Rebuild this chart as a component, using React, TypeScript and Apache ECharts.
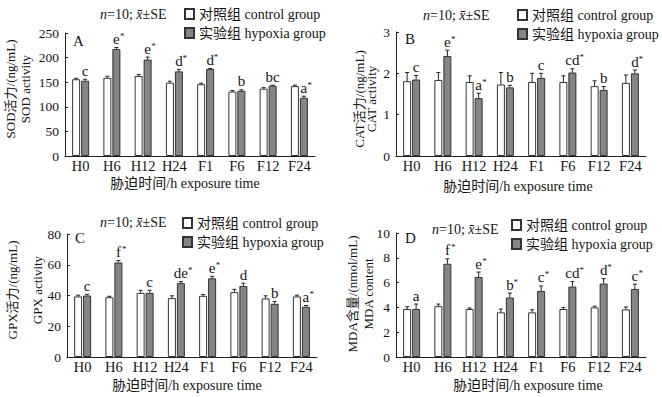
import React, { useEffect, useRef } from 'react';
import * as echarts from 'echarts';

// ---------------- data ----------------
const categories = ['H0', 'H6', 'H12', 'H24', 'F1', 'F6', 'F12', 'F24'];
const controlName = '对照组 control group';
const hypoxiaName = '实验组 hypoxia group';

const sodControl = [156, 159, 162.5, 149, 146, 131, 137, 142];
const sodControlErr = [2, 3, 3, 3, 2, 2, 2, 2];
const sodHypoxia = [153, 217.5, 196, 172, 177, 132.5, 143, 118.5];
const sodHypoxiaErr = [3, 3, 5, 4, 1, 2, 1, 3];
const sodSig = ['c', 'e*', 'e*', 'd*', 'd*', 'b', 'bc', 'a*'];

const catControl = [1.81, 1.84, 1.79, 1.73, 1.79, 1.79, 1.69, 1.77];
const catControlErr = [0.21, 0.18, 0.15, 0.29, 0.21, 0.15, 0.13, 0.19];
const catHypoxia = [1.85, 2.42, 1.4, 1.66, 1.89, 2.02, 1.6, 2.0];
const catHypoxiaErr = [0.1, 0.14, 0.12, 0.05, 0.11, 0.09, 0.08, 0.08];
const catSig = ['c', 'e*', 'a*', 'b', 'c', 'cd*', 'b', 'd*'];

const gpxControl = [39.4, 38.9, 41.7, 38.3, 39.8, 42.2, 38.1, 39.4];
const gpxControlErr = [0.8, 0.6, 1.7, 1.5, 0.8, 1.8, 1.7, 0.8];
const gpxHypoxia = [40, 61.5, 41.7, 48, 51.2, 46.2, 34.6, 32.7];
const gpxHypoxiaErr = [0.8, 1.3, 1.7, 1.0, 1.3, 1.8, 1.5, 0.8];
const gpxSig = ['c', 'f*', 'c', 'de*', 'e*', 'd', 'b', 'a*'];

const mdaControl = [3.87, 4.1, 3.87, 3.6, 3.6, 3.87, 4.0, 3.84];
const mdaControlErr = [0.18, 0.17, 0.08, 0.27, 0.21, 0.13, 0.1, 0.19];
const mdaHypoxia = [3.87, 7.52, 6.45, 4.8, 5.33, 5.68, 5.92, 5.49];
const mdaHypoxiaErr = [0.4, 0.4, 0.4, 0.35, 0.4, 0.4, 0.4, 0.38];
const mdaSig = ['a', 'f*', 'e*', 'b*', 'c*', 'cd*', 'd*', 'c*'];

const xAxisTitle = '胁迫时间/h exposure time';
const statText = '{i|n}=10; {i|x\u0304}±SE';

// ---------------- layout ----------------
const FONT = 'Liberation Serif, Noto Sans CJK SC, serif';
const TXT = '#141414';
const LINE = '#222';

const panels = [
  {
    tag: 'A', max: 250, interval: 50,
    control: sodControl, controlErr: sodControlErr, hypoxia: sodHypoxia, hypoxiaErr: sodHypoxiaErr, sig: sodSig,
    yName: ['SOD活力/(ng/mL)', 'SOD activity'],
    grid: { left: 65, top: 33, width: 250, height: 123 },
    yNamePos: [10.5, 25, 89], xNamePos: [185, 183], statPos: [100, 14], tagPos: [73, 41], legendPos: [184, 7],
  },
  {
    tag: 'B', max: 3, interval: 1,
    control: catControl, controlErr: catControlErr, hypoxia: catHypoxia, hypoxiaErr: catHypoxiaErr, sig: catSig,
    yName: ['CAT活力/(ng/mL)', 'CAT activity'],
    grid: { left: 396, top: 32, width: 250, height: 124 },
    yNamePos: [359, 371, 99], xNamePos: [518, 186], statPos: [423, 15], tagPos: [405, 39], legendPos: [517, 8],
  },
  {
    tag: 'C', max: 80, interval: 20,
    control: gpxControl, controlErr: gpxControlErr, hypoxia: gpxHypoxia, hypoxiaErr: gpxHypoxiaErr, sig: gpxSig,
    yName: ['GPX活力/(ng/mL)', 'GPX activity'],
    grid: { left: 67, top: 234, width: 250, height: 123 },
    yNamePos: [12.5, 37, 290], xNamePos: [187, 385], statPos: [100, 222], tagPos: [75, 238], legendPos: [182, 216],
  },
  {
    tag: 'D', max: 10, interval: 2,
    control: mdaControl, controlErr: mdaControlErr, hypoxia: mdaHypoxia, hypoxiaErr: mdaHypoxiaErr, sig: mdaSig,
    yName: ['MDA含量/(nmol/mL)', 'MDA content'],
    grid: { left: 396, top: 233, width: 250, height: 124 },
    yNamePos: [352, 368, 294], xNamePos: [528, 385], statPos: [432, 229], tagPos: [405, 238], legendPos: [511, 218],
  },
];

const HALF = 4.5; // half distance between the two bars' centres

function buildOption() {
  const grid: any[] = [];
  const xAxis: any[] = [];
  const yAxis: any[] = [];
  const series: any[] = [];
  const legend: any[] = [];
  const graphic: any[] = [];

  panels.forEach((p, pi) => {
    grid.push({ ...p.grid, containLabel: false });
    xAxis.push({
      type: 'category', gridIndex: pi, data: categories, boundaryGap: true,
      axisLine: { lineStyle: { color: LINE, width: 1 } },
      axisTick: { show: false },
      axisLabel: { color: TXT, fontFamily: FONT, fontSize: 14.5, margin: 3, interval: 0 },
      splitLine: { show: false },
    });
    yAxis.push({
      type: 'value', gridIndex: pi, min: 0, max: p.max, interval: p.interval,
      axisLine: { show: true, lineStyle: { color: LINE, width: 1 } },
      axisTick: { show: true, inside: true, length: 3, lineStyle: { color: LINE } },
      axisLabel: { color: TXT, fontFamily: FONT, fontSize: 13.5, margin: 6 },
      splitLine: { show: false },
    });
    series.push({
      type: 'bar', name: controlName, xAxisIndex: pi, yAxisIndex: pi,
      data: p.control, barWidth: 8, barGap: '12.5%',
      itemStyle: { color: '#ffffff', borderColor: '#333', borderWidth: 1 },
      silent: true,
    });
    series.push({
      type: 'bar', name: hypoxiaName, xAxisIndex: pi, yAxisIndex: pi,
      data: p.hypoxia, barWidth: 8, barGap: '12.5%',
      itemStyle: { color: '#858585', borderColor: '#333', borderWidth: 1 },
      silent: true,
    });
    series.push({
      type: 'custom', xAxisIndex: pi, yAxisIndex: pi, silent: true, z: 5,
      data: categories.map((_, i) => [i, Math.max(p.control[i] + p.controlErr[i], p.hypoxia[i] + p.hypoxiaErr[i])]),
      encode: { x: 0, y: 1 },
      renderItem: (params: any, api: any) => {
        const i = params.dataIndex;
        const children: any[] = [];
        const pairs: [number, number, number][] = [
          [p.control[i], p.controlErr[i], -HALF],
          [p.hypoxia[i], p.hypoxiaErr[i], HALF],
        ];
        let hypTop = 0;
        pairs.forEach(([v, e, off]) => {
          const base = api.coord([i, v]);
          const top = api.coord([i, v + e]);
          const x = base[0] + off;
          children.push({ type: 'line', shape: { x1: x, y1: base[1], x2: x, y2: top[1] }, style: { stroke: LINE, lineWidth: 1 } });
          children.push({ type: 'line', shape: { x1: x - 2, y1: top[1], x2: x + 2, y2: top[1] }, style: { stroke: LINE, lineWidth: 1 } });
          hypTop = top[1];
        });
        const sig = p.sig[i];
        const letters = sig.replace('*', '');
        const star = sig.indexOf('*') >= 0;
        const cx = api.coord([i, 0])[0] + HALF;
        const yb = hypTop - 1;
        children.push({
          type: 'text',
          style: { text: letters, x: cx, y: yb, align: 'center', verticalAlign: 'bottom', fontFamily: FONT, fontSize: 15, fill: TXT },
        });
        if (star) {
          children.push({
            type: 'text',
            style: { text: '*', x: cx + letters.length * 3.4 + 0.3, y: yb - 15, align: 'left', verticalAlign: 'top', fontFamily: FONT, fontSize: 9, fill: TXT },
          });
        }
        return { type: 'group', children };
      },
    });
    legend.push({
      left: p.legendPos[0], top: p.legendPos[1], orient: 'vertical', padding: 0,
      itemWidth: 9, itemHeight: 10, itemGap: 5, icon: 'rect', selectedMode: false,
      textStyle: { color: TXT, fontFamily: FONT, fontSize: 14, lineHeight: 14 },
      data: [controlName, hypoxiaName],
    });
    // y axis names (two lines, rotated)
    p.yName.forEach((t, li) => {
      graphic.push({
        type: 'text', x: p.yNamePos[li], y: p.yNamePos[2], rotation: Math.PI / 2,
        style: { text: t, x: 0, y: 0, align: 'center', verticalAlign: 'middle', fontFamily: FONT, fontSize: 13, fill: TXT },
      });
    });
    graphic.push({
      type: 'text', x: p.xNamePos[0], y: p.xNamePos[1],
      style: { text: xAxisTitle, x: 0, y: 0, align: 'center', verticalAlign: 'middle', fontFamily: FONT, fontSize: 14, fill: TXT },
    });
    graphic.push({
      type: 'text', x: p.statPos[0], y: p.statPos[1],
      style: {
        text: statText, x: 0, y: 0, align: 'left', verticalAlign: 'middle', fontFamily: FONT, fontSize: 14, fill: TXT,
        rich: { i: { fontStyle: 'italic', fontFamily: FONT, fontSize: 14, fill: TXT } },
      },
    });
    graphic.push({
      type: 'text', x: p.tagPos[0], y: p.tagPos[1],
      style: { text: p.tag, x: 0, y: 0, align: 'left', verticalAlign: 'middle', fontFamily: FONT, fontSize: 15, fill: TXT },
    });
  });

  return {
    animation: false,
    backgroundColor: '#ffffff',
    grid, xAxis, yAxis, series, legend, graphic,
  };
}

export default function App() {
  const ref = useRef<HTMLDivElement>(null);
  useEffect(() => {
    if (!ref.current) return;
    const chart = echarts.init(ref.current, undefined, { renderer: 'svg' });
    chart.setOption(buildOption() as any);
    return () => chart.dispose();
  }, []);
  return (
    <div
      ref={ref}
      style={{ position: 'absolute', left: 0, top: 0, width: 662, height: 397, background: '#fff' }}
    />
  );
}
